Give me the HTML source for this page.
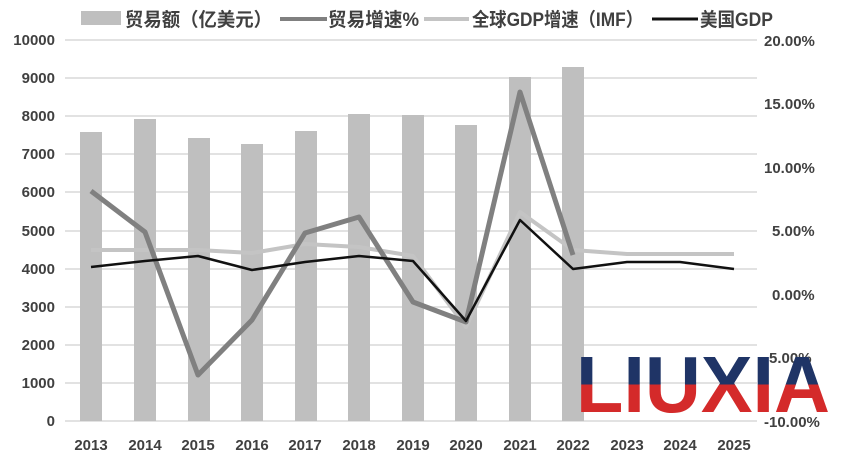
<!DOCTYPE html><html><head><meta charset="utf-8"><style>body{margin:0;background:#fff}svg{display:block}</style></head><body>
<svg width="844" height="458" viewBox="0 0 844 458" font-family="'Liberation Sans','Noto Sans CJK SC',sans-serif">
<defs><linearGradient id="lg" x1="0" y1="0" x2="0" y2="1"><stop offset="0.5" stop-color="#1f3466"/><stop offset="0.5" stop-color="#d42a2a"/></linearGradient></defs>
<g stroke="#d9d9d9" stroke-width="1.5">
<line x1="65" x2="757" y1="40" y2="40"/><line x1="65" x2="757" y1="78" y2="78"/><line x1="65" x2="757" y1="116" y2="116"/><line x1="65" x2="757" y1="154" y2="154"/><line x1="65" x2="757" y1="192" y2="192"/><line x1="65" x2="757" y1="231" y2="231"/><line x1="65" x2="757" y1="269" y2="269"/><line x1="65" x2="757" y1="307" y2="307"/><line x1="65" x2="757" y1="345" y2="345"/><line x1="65" x2="757" y1="383" y2="383"/><line x1="65" x2="757" y1="421" y2="421"/></g>
<g fill="#bfbfbf">
<rect x="80" y="132" width="22" height="289"/><rect x="134" y="119" width="22" height="302"/><rect x="188" y="138" width="22" height="283"/><rect x="241" y="144" width="22" height="277"/><rect x="295" y="131" width="22" height="290"/><rect x="348" y="114" width="22" height="307"/><rect x="402" y="115" width="22" height="306"/><rect x="455" y="125" width="22" height="296"/><rect x="509" y="77" width="22" height="344"/><rect x="562" y="67" width="22" height="354"/></g>
<g fill="none" stroke-linejoin="round">
<polyline stroke="#c4c4c4" stroke-width="4" points="91,250 145,250 198,250 252,253 305,244 359,247 413,256 466,327 520,212 573,250 627,254 680,254 734,254"/>
<polyline stroke="#808080" stroke-width="5" points="91,191 145,232 198,375 252,320 305,233 359,217 413,302 466,322 520,92 573,255"/>
<polyline stroke="#111" stroke-width="2.5" points="91,267 145,261 198,256 252,270 305,262 359,256 413,261 466,321 520,220 573,269 627,262 680,262 734,269"/>
</g>
<g font-size="15" fill="#404040" text-anchor="end" font-weight="bold">
<text x="55" y="45">10000</text><text x="55" y="83">9000</text><text x="55" y="121">8000</text><text x="55" y="159">7000</text><text x="55" y="197">6000</text><text x="55" y="236">5000</text><text x="55" y="274">4000</text><text x="55" y="312">3000</text><text x="55" y="350">2000</text><text x="55" y="388">1000</text><text x="55" y="426">0</text></g>
<g font-size="15" fill="#404040" font-weight="bold">
<text x="764" y="46">20.00%</text><text x="764" y="109">15.00%</text><text x="764" y="173">10.00%</text><text x="772" y="236">5.00%</text><text x="772" y="300">0.00%</text><text x="764" y="363">-5.00%</text><text x="764" y="427">-10.00%</text></g>
<g font-size="15" fill="#404040" text-anchor="middle" font-weight="bold">
<text x="91" y="450">2013</text><text x="145" y="450">2014</text><text x="198" y="450">2015</text><text x="252" y="450">2016</text><text x="305" y="450">2017</text><text x="359" y="450">2018</text><text x="413" y="450">2019</text><text x="466" y="450">2020</text><text x="520" y="450">2021</text><text x="573" y="450">2022</text><text x="627" y="450">2023</text><text x="680" y="450">2024</text><text x="734" y="450">2025</text></g>
<g font-size="19" fill="#404040" font-weight="bold">
<rect x="81" y="11" width="40" height="14" fill="#bfbfbf"/><text x="125" y="26" textLength="147" lengthAdjust="spacingAndGlyphs">贸易额（亿美元）</text>
<line x1="280" x2="327" y1="19" y2="19" stroke="#808080" stroke-width="4"/><text x="328" y="26" textLength="91" lengthAdjust="spacingAndGlyphs">贸易增速%</text>
<line x1="424" x2="469" y1="19" y2="19" stroke="#c4c4c4" stroke-width="4"/><text x="472" y="26" textLength="171" lengthAdjust="spacingAndGlyphs">全球GDP增速（IMF）</text>
<line x1="652" x2="698" y1="19" y2="19" stroke="#111" stroke-width="3"/><text x="700" y="26" textLength="73" lengthAdjust="spacingAndGlyphs">美国GDP</text></g>
<text x="576" y="412" font-size="80" font-weight="bold" fill="url(#lg)" textLength="254" lengthAdjust="spacingAndGlyphs">LIUXIA</text>
</svg></body></html>
